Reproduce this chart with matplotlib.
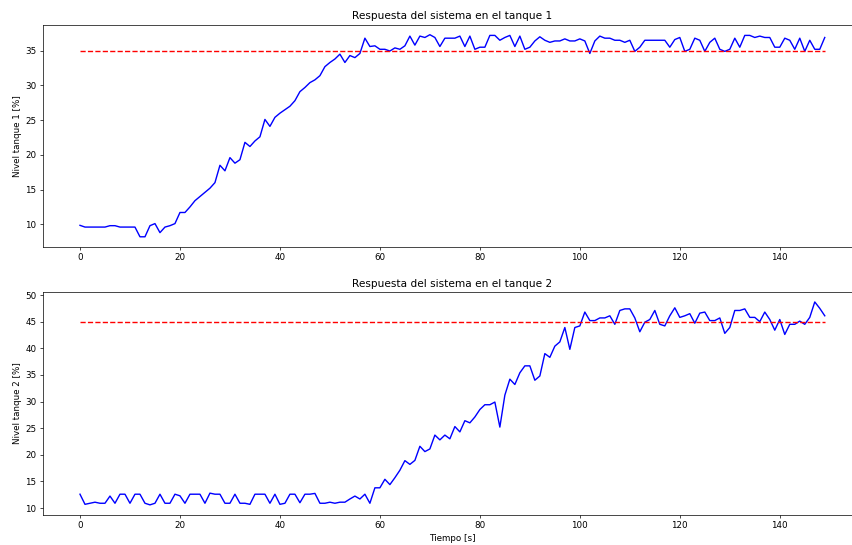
import matplotlib.pyplot as plt
import numpy as np

# Tiempo de simulacion
tiempo = np.arange(150)

# Setpoints
ref_tanque1 = 35
ref_tanque2 = 45

# Nivel medido en el tanque 1 [%]
nivel_tanque1 = [
    9.85, 9.6, 9.6, 9.6, 9.6, 9.6, 9.8, 9.8, 9.6, 9.6,
    9.6, 9.6, 8.2, 8.2, 9.8, 10.1, 8.8, 9.6, 9.8, 10.1,
    11.7, 11.7, 12.5, 13.4, 14.0, 14.6, 15.2, 16.0, 18.5, 17.7,
    19.6, 18.8, 19.3, 21.8, 21.2, 22.0, 22.6, 25.1, 24.1, 25.4,
    26.0, 26.5, 27.0, 27.8, 29.1, 29.7, 30.4, 30.8, 31.4, 32.7,
    33.3, 33.8, 34.5, 33.3, 34.3, 34.0, 34.6, 36.8, 35.6, 35.7,
    35.2, 35.2, 34.95, 35.4, 35.2, 35.7, 37.1, 35.8, 37.1, 36.9,
    37.3, 36.9, 35.6, 36.8, 36.8, 36.8, 37.1, 35.6, 37.1, 35.2,
    35.5, 35.5, 37.2, 37.2, 36.5, 36.9, 37.2, 35.6, 37.1, 35.2,
    35.5, 36.4, 37.0, 36.5, 36.2, 36.4, 36.4, 36.7, 36.4, 36.4,
    36.7, 36.4, 34.6, 36.4, 37.1, 36.8, 36.8, 36.5, 36.5, 36.2,
    36.5, 34.9, 35.5, 36.5, 36.5, 36.5, 36.5, 36.5, 35.5, 36.6,
    36.9, 34.9, 35.2, 36.8, 36.5, 34.9, 36.2, 36.8, 35.2, 34.9,
    35.2, 36.8, 35.5, 37.2, 37.2, 36.9, 37.1, 36.9, 36.9, 35.5,
    35.5, 36.8, 36.5, 35.2, 36.8, 34.9, 36.5, 35.2, 35.2, 36.9,
]

# Nivel medido en el tanque 2 [%]
nivel_tanque2 = [
    12.6, 10.7, 10.9, 11.1, 10.9, 10.9, 12.25, 10.9, 12.6, 12.6,
    10.9, 12.6, 12.6, 10.9, 10.6, 10.9, 12.6, 10.9, 10.9, 12.6,
    12.3, 10.9, 12.6, 12.6, 12.6, 10.9, 12.8, 12.6, 12.6, 10.9,
    10.9, 12.6, 10.9, 10.9, 10.7, 12.6, 12.6, 12.6, 10.9, 12.6,
    10.7, 10.9, 12.6, 12.6, 11.0, 12.6, 12.6, 12.75, 10.9, 10.9,
    11.1, 10.9, 11.1, 11.1, 11.7, 12.25, 11.7, 12.6, 10.9, 13.8,
    13.8, 15.4, 14.4, 15.7, 17.1, 18.9, 18.2, 18.95, 21.6, 20.6,
    21.1, 23.7, 22.8, 23.7, 23.0, 25.3, 24.3, 26.4, 26.0, 27.1,
    28.5, 29.4, 29.4, 29.9, 25.2, 31.2, 34.2, 33.2, 35.4, 36.7,
    36.7, 34.0, 34.8, 39.0, 38.3, 40.4, 41.2, 43.9, 39.8, 43.9,
    44.2, 46.8, 45.2, 45.2, 45.7, 45.7, 46.1, 44.5, 47.1, 47.4,
    47.4, 45.7, 43.1, 44.9, 45.4, 47.1, 44.5, 44.2, 46.1, 47.6,
    45.8, 46.1, 46.5, 44.7, 46.6, 46.8, 45.2, 45.2, 45.7, 42.8,
    43.9, 47.1, 47.1, 47.4, 45.8, 45.8, 45.0, 46.8, 45.4, 43.4,
    45.4, 42.6, 44.5, 44.5, 45.1, 44.5, 45.8, 48.7, 47.5, 46.1,
]

# figura original reducida, escalar tamaños
s = 0.63
plt.rcParams.update({
    'font.size': 10 * s,
    'axes.titlesize': 12 * s,
    'axes.titlepad': 6 * s,
    'axes.labelpad': 4 * s,
    'axes.linewidth': 0.8 * s,
    'xtick.major.size': 3.5 * s,
    'ytick.major.size': 3.5 * s,
    'xtick.major.width': 0.8 * s,
    'ytick.major.width': 0.8 * s,
    'xtick.major.pad': 3.5 * s,
    'ytick.major.pad': 3.5 * s,
    'lines.linewidth': 1.6 * s,
})

W, H = 852, 545
fig = plt.figure(figsize=(W / 100, H / 100), dpi=100)
ax1 = fig.add_axes([42.75 / W, 1 - 246.9 / H, 819.25 / W, 222.3 / H])
ax2 = fig.add_axes([42.75 / W, 1 - 515.0 / H, 819.25 / W, 223.2 / H])

ax1.plot(tiempo, nivel_tanque1, 'b')
ax1.plot(tiempo, np.full(len(tiempo), ref_tanque1), 'r--')
ax1.set_title('Respuesta del sistema en el tanque 1')
ax1.set_ylabel('Nivel tanque 1 [%]')
ax1.set_xticks(range(0, 150, 20))
ax1.set_yticks(range(10, 36, 5))

ax2.plot(tiempo, nivel_tanque2, 'b')
ax2.plot(tiempo, np.full(len(tiempo), ref_tanque2), 'r--')
ax2.set_title('Respuesta del sistema en el tanque 2')
ax2.set_ylabel('Nivel tanque 2 [%]')
ax2.set_xlabel('Tiempo [s]')
ax2.set_xticks(range(0, 150, 20))
ax2.set_yticks(range(10, 51, 5))

plt.savefig('out.png', dpi=100)
